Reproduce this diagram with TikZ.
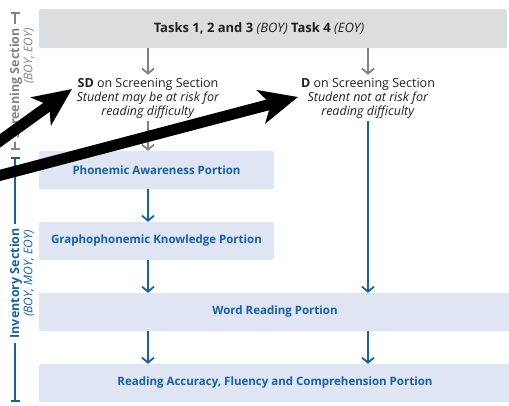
\documentclass[tikz,border=0pt]{standalone}
\usepackage{fontspec}
\setmainfont{Open Sans}
\usetikzlibrary{arrows.meta, positioning}
\definecolor{flowblue}{HTML}{1561A8}
\definecolor{boxblue}{HTML}{DFE5F2}
\definecolor{boxgray}{HTML}{DCDDDF}
\definecolor{linegray}{HTML}{828282}
\definecolor{textdark}{HTML}{231F20}
\begin{document}
\begin{tikzpicture}[x=1pt,y=-1pt]
	\tikzstyle{Task} = [rectangle, rounded corners=2pt, inner sep=0pt, minimum height=39pt, fill=boxgray]
	\tikzstyle{Portion} = [rectangle, rounded corners=2pt, inner sep=0pt, minimum height=38pt, fill=boxblue, text=flowblue, font=\bfseries\fontsize{11.5}{14}\selectfont]
	\tikzstyle{Result} = [align=center, inner sep=3pt, text=textdark, font=\fontsize{12.5}{14}\selectfont]
	\tikzstyle{Section} = [rotate=90, anchor=east, inner sep=0pt, font=\bfseries\fontsize{12.5}{14}\selectfont]
	\tikzstyle{Period} = [rotate=90, anchor=east, inner sep=0pt, font=\itshape\fontsize{12}{13}\selectfont]
	\tikzstyle{grayarrow} = [line width=1.8pt, linegray, -{Straight Barb[length=5pt, width=12pt]}]
	\tikzstyle{bluearrow} = [line width=1.8pt, flowblue, -{Straight Barb[length=5pt, width=12pt]}]
	\tikzstyle{axis} = [line width=1.6pt, shorten >=4pt]
	\tikzstyle{pointer} = [line width=11pt, black, -{Stealth[length=38pt, width=34pt, inset=10pt]}]
	
	\useasboundingbox (0,0) rectangle (509,405);
	
	\node (tasks) [Task, minimum width=468pt] at (273,28.5) {};
	\node (taskstext) [text=textdark, font=\fontsize{13}{15}\selectfont] at (259,28.5) {\textbf{Tasks 1, 2 and 3} \textit{(BOY)} \textbf{Task 4} \textit{(EOY)}};
	\node (sd) [Result] at (148,98) {\textbf{SD} on Screening Section\\ \textit{Student may be at risk for}\\ \textit{reading difficulty}};
	\node (d) [Result] at (368,98) {\textbf{D} on Screening Section\\ \textit{Student not at risk for}\\ \textit{reading difficulty}};
	\node (phon) [Portion, minimum width=235pt] at (156.5,170) {Phonemic Awareness Portion};
	\node (graph) [Portion, minimum width=235pt] at (156.5,241) {Graphophonemic Knowledge Portion};
	\node (word) [Portion, minimum width=472pt] at (275,312) {Word Reading Portion};
	\node (read) [Portion, minimum width=472pt] at (275,383) {Reading Accuracy, Fluency and Comprehension Portion};
	
	\draw [grayarrow] (tasks.south -| sd) -- (sd.north);
	\draw [grayarrow] (tasks.south -| d) -- (d.north);
	\draw [grayarrow] (sd.south) -- (sd.south |- phon.north);
	\draw [bluearrow] (d.south) -- (d.south |- word.north);
	\draw [bluearrow] (phon.south -| sd) -- (graph.north -| sd);
	\draw [bluearrow] (graph.south -| sd) -- (word.north -| sd);
	\draw [bluearrow] (word.south -| sd) -- (read.north -| sd);
	\draw [bluearrow] (word.south -| d) -- (read.north -| d);
	
	% section axes
	\coordinate (scrtop) at (15,12);
	\coordinate (scrbot) at (15,150);
	\coordinate (invtop) at (15,157);
	\coordinate (invbot) at (15,402);
	\node (scr) [Section, text=linegray] at (16,28) {Screening Section};
	\node (scrsub) [Period, text=linegray] at (29,28) {(BOY, EOY)};
	\node (inv) [Section, text=flowblue] at (16,228) {Inventory Section};
	\node (invsub) [Period, text=flowblue] at (29,230) {(BOY, MOY, EOY)};
	\draw [axis, linegray, {Bar[width=9pt]}-] (scrtop) -- (scr.east -| scrtop);
	\draw [axis, linegray, -{Bar[width=9pt]}, shorten <=4pt, shorten >=0pt] (scr.west -| scrtop) -- (scrbot);
	\draw [axis, flowblue, {Bar[width=9pt]}-] (invtop) -- (inv.east -| invtop);
	\draw [axis, flowblue, -{Bar[width=9pt]}, shorten <=4pt, shorten >=0pt] (inv.west -| invtop) -- (invbot);
	
	% pointers
	\coordinate (ptail1) at (-10,148);
	\coordinate (ptip1) at (72,89);
	\coordinate (ptail2) at (-10,178);
	\coordinate (ptip2) at (298,97);
	\draw [pointer] (ptail1) -- (ptip1);
	\draw [pointer] (ptail2) -- (ptip2);
\end{tikzpicture}
\end{document}
